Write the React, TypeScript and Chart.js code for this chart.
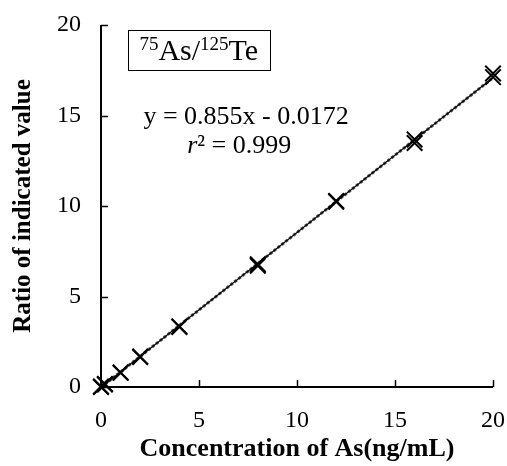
import React, { useEffect, useRef } from "react";
import { Chart, registerables } from "chart.js";

Chart.register(...registerables);

// Calibration standards (ng/mL) and measured intensity ratios, two replicates
const concentrations = [0, 0.2, 1, 2, 4, 8, 12, 16, 20];
const ratioRun1 = [0.0, 0.17, 0.8, 1.68, 3.35, 6.78, 10.28, 13.68, 17.32];
const ratioRun2 = [0.03, 0.14, 0.78, 1.66, 3.32, 6.7, 10.24, 13.48, 17.12];

// Linear fit
const slope = 0.855;
const intercept = -0.0172;
const rSquared = 0.999;
const fitRange = [0, 20];

const xTicks = [0, 5, 10, 15, 20];
const yTicks = [0, 5, 10, 15, 20];

const FONT = "'Liberation Serif', 'Times New Roman', serif";

const toPoints = (ys: number[]) => concentrations.map((x, i) => ({ x, y: ys[i] }));

const overlayPlugin = {
  id: "overlay",
  afterDraw(chart: any) {
    const { ctx, scales } = chart;
    const xs = scales.x;
    const ys = scales.y;
    const left = xs.left;
    const bottom = ys.bottom;
    ctx.save();
    // axis lines
    ctx.strokeStyle = "#000";
    ctx.lineWidth = 2;
    ctx.beginPath();
    ctx.moveTo(left, ys.getPixelForValue(20));
    ctx.lineTo(left, bottom);
    ctx.lineTo(xs.getPixelForValue(20), bottom);
    ctx.stroke();
    // inward tick marks
    ctx.lineWidth = 1.5;
    ctx.beginPath();
    yTicks.forEach((v) => {
      const p = Math.round(ys.getPixelForValue(v)) + 0.5;
      ctx.moveTo(left, p);
      ctx.lineTo(left + 7, p);
    });
    xTicks.forEach((v) => {
      const p = Math.round(xs.getPixelForValue(v)) + 0.5;
      ctx.moveTo(p, bottom);
      ctx.lineTo(p, bottom - 7);
    });
    ctx.stroke();

    // isotope ratio label in a box
    const bx0 = xs.getPixelForValue(1.38);
    const bx1 = xs.getPixelForValue(8.6);
    const by0 = ys.getPixelForValue(19.72);
    const by1 = ys.getPixelForValue(17.5);
    ctx.lineWidth = 1;
    ctx.strokeRect(Math.round(bx0) + 0.5, Math.round(by0) + 0.5, Math.round(bx1 - bx0), Math.round(by1 - by0));
    const parts: [string, boolean][] = [
      ["75", true],
      ["As/", false],
      ["125", true],
      ["Te", false],
    ];
    const big = `30px ${FONT}`;
    const small = `19px ${FONT}`;
    let total = 0;
    parts.forEach(([t, sup]) => {
      ctx.font = sup ? small : big;
      total += ctx.measureText(t).width;
    });
    let cx = (bx0 + bx1) / 2 - total / 2;
    const base = (by0 + by1) / 2 + 10;
    ctx.fillStyle = "#000";
    ctx.textBaseline = "alphabetic";
    ctx.textAlign = "left";
    parts.forEach(([t, sup]) => {
      ctx.font = sup ? small : big;
      ctx.fillText(t, cx, sup ? base - 10 : base);
      cx += ctx.measureText(t).width;
    });

    // fit equation
    const eqX = xs.getPixelForValue(7.4);
    ctx.font = `26px ${FONT}`;
    ctx.textAlign = "center";
    ctx.fillText(`y = ${slope}x - ${Math.abs(intercept)}`, eqX, ys.getPixelForValue(14.55));
    // r² line
    const rest = `\u00b2 = ${rSquared.toFixed(3)}`;
    ctx.font = `26px ${FONT}`;
    const wRest = ctx.measureText(rest).width;
    ctx.font = `italic 26px ${FONT}`;
    const wR = ctx.measureText("r").width;
    const startX = xs.getPixelForValue(7.05) - (wR + wRest) / 2;
    const rY = ys.getPixelForValue(12.95);
    ctx.textAlign = "left";
    ctx.fillText("r", startX, rY);
    ctx.font = `26px ${FONT}`;
    ctx.fillText(rest, startX + wR, rY);
    ctx.restore();
  },
};

export default function App() {
  const ref = useRef<HTMLCanvasElement>(null);

  useEffect(() => {
    if (!ref.current) return;
    const fitLine = fitRange.map((x) => ({ x, y: slope * x + intercept }));
    const chart = new Chart(ref.current, {
      type: "scatter",
      data: {
        datasets: [
          {
            type: "line",
            data: fitLine,
            borderColor: "#000",
            borderWidth: 1.2,
            pointRadius: 0,
            order: 1,
          },
          {
            type: "line",
            data: fitLine,
            borderColor: "#555",
            borderWidth: 3,
            borderDash: [3, 2],
            pointRadius: 0,
            order: 2,
          },
          {
            data: toPoints(ratioRun1),
            pointStyle: "crossRot",
            pointRadius: 11,
            borderColor: "#000",
            borderWidth: 2,
            clip: false,
            order: 0,
          },
          {
            data: toPoints(ratioRun2),
            pointStyle: "crossRot",
            pointRadius: 11,
            borderColor: "#000",
            borderWidth: 2,
            clip: false,
            order: 0,
          },
        ],
      },
      options: {
        responsive: false,
        animation: false,
        layout: { padding: { top: 25, right: 14, left: 0, bottom: 0 } },
        plugins: {
          legend: { display: false },
          tooltip: { enabled: false },
        },
        scales: {
          x: {
            type: "linear",
            min: 0,
            max: 20,
            border: { display: false },
            grid: { display: false, drawTicks: false },
            afterBuildTicks: (s: any) => {
              s.ticks = xTicks.map((value) => ({ value }));
            },
            afterFit: (s: any) => {
              s.height = 79;
              s.paddingLeft = 0;
              s.paddingRight = 0;
            },
            ticks: {
              color: "#000",
              padding: 19,
              maxRotation: 0,
              font: { family: FONT, size: 24 },
            },
            title: {
              display: true,
              text: "Concentration of As(ng/mL)",
              color: "#000",
              padding: { top: 0, bottom: 1 },
              font: { family: FONT, size: 26, weight: "bold" },
            },
          },
          y: {
            type: "linear",
            min: 0,
            max: 20,
            border: { display: false },
            grid: { display: false, drawTicks: false },
            afterBuildTicks: (s: any) => {
              s.ticks = yTicks.map((value) => ({ value }));
            },
            afterFit: (s: any) => {
              s.width = 101;
              s.paddingTop = 0;
              s.paddingBottom = 0;
            },
            ticks: {
              color: "#000",
              padding: 20,
              font: { family: FONT, size: 24 },
            },
            title: {
              display: true,
              text: "Ratio of indicated value",
              color: "#000",
              padding: { top: 9, bottom: 0 },
              font: { family: FONT, size: 25, weight: "bold" },
            },
          },
        },
      },
      plugins: [overlayPlugin],
    });
    return () => chart.destroy();
  }, []);

  return (
    <div style={{ position: "absolute", left: 0, top: 0, width: 507, height: 466, background: "#fff" }}>
      <canvas ref={ref} width={507} height={466} />
    </div>
  );
}
